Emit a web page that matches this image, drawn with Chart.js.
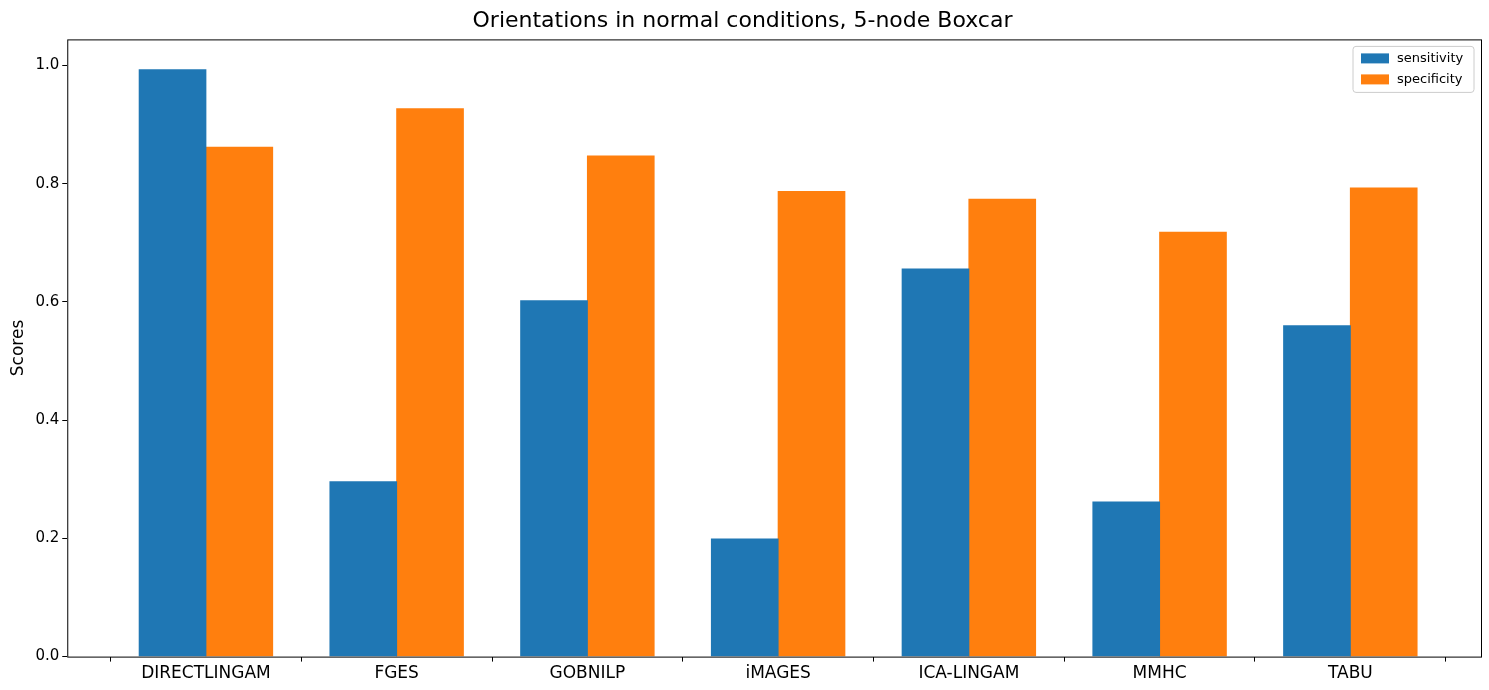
<!DOCTYPE html>
<html><head><meta charset="utf-8">
<script src="https://cdn.jsdelivr.net/npm/chart.js@4"></script>
<style>body{margin:0;background:#fff}#w{width:1489px;height:690px}</style>
</head><body><div id="w"><canvas id="c"></canvas></div>
<script>
const categories=["DIRECTLINGAM","FGES","GOBNILP","iMAGES","ICA-LINGAM","MMHC","TABU"];
const sensitivity=[0.993,0.296,0.602,0.199,0.656,0.262,0.560];
const specificity=[0.862,0.927,0.847,0.787,0.774,0.718,0.793];
const yTicks=[0,0.2,0.4,0.6,0.8,1.0];
const F="DejaVu Sans";
const frame={id:"frame",afterDraw(ch){const a=ch.chartArea,c=ch.ctx;c.save();c.strokeStyle="#000";c.lineWidth=1;c.strokeRect(a.left+0.5,a.top+0.5,a.right-a.left,a.bottom-a.top);
const items=[["sensitivity","#1f77b4"],["specificity","#ff7f0e"]];
const bx=a.right-128,by=a.top+7,bw=121,bh=46;
c.fillStyle="rgba(255,255,255,0.8)";c.strokeStyle="#ccc";c.beginPath();c.roundRect(bx,by,bw,bh,3);c.fill();c.stroke();
c.font="13px "+F;c.textBaseline="middle";
items.forEach((it,i)=>{const y=by+12+i*21;c.fillStyle=it[1];c.fillRect(bx+8,y-5,28,10);c.fillStyle="#000";c.fillText(it[0],bx+44,y);});
c.restore();}};
new Chart(document.getElementById("c"),{type:"bar",
data:{datasets:[
{label:"sensitivity",data:sensitivity.map((v,i)=>({x:i-0.175,y:v})),backgroundColor:"#1f77b4",barThickness:67,grouped:false},
{label:"specificity",data:specificity.map((v,i)=>({x:i+0.175,y:v})),backgroundColor:"#ff7f0e",barThickness:67,grouped:false}]},
options:{responsive:true,maintainAspectRatio:false,animation:false,
layout:{padding:{left:4,right:8,top:0,bottom:4}},
plugins:{legend:{display:false},tooltip:{enabled:false},
title:{display:true,text:"Orientations in normal conditions, 5-node Boxcar",font:{family:F,size:22,weight:"normal"},color:"#000",padding:{top:8,bottom:5}}},
scales:{
x:{type:"linear",offset:false,min:-0.727,max:6.685,grid:{display:true,drawOnChartArea:false,tickLength:5,color:"#000"},border:{display:false},
afterBuildTicks(s){s.ticks=categories.map((_,i)=>({value:i}));},
ticks:{autoSkip:false,maxRotation:0,color:"#000",padding:2,font:{family:F,size:17},callback:(v)=>categories[v]}},
y:{min:0,max:1.044,grid:{display:true,drawOnChartArea:false,tickLength:5,color:"#000"},border:{display:false},
afterBuildTicks(s){s.ticks=yTicks.map(v=>({value:v}));},
title:{display:true,text:"Scores",font:{family:F,size:17},color:"#000",padding:{bottom:4}},
ticks:{color:"#000",padding:3,font:{family:F,size:15},callback:(v)=>v.toFixed(1)}}}},
plugins:[frame]});
</script></body></html>
